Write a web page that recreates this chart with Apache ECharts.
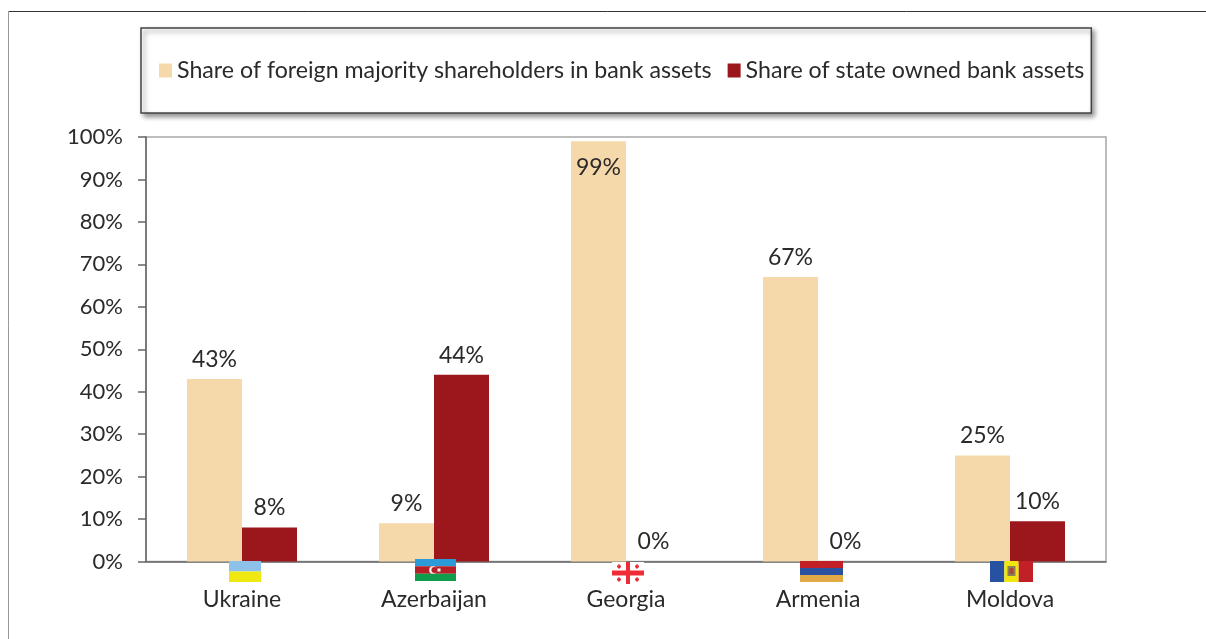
<!DOCTYPE html>
<html>
<head>
<meta charset="utf-8">
<style>
    html, body { margin: 0; padding: 0; background: #fff; }
    #chart { width: 1206px; height: 639px; }
</style>
<script src="https://cdn.jsdelivr.net/npm/echarts@6/dist/echarts.min.js"></script>
</head>
<body>
<div id="chart"></div>
<script>
var countries = ['Ukraine', 'Azerbaijan', 'Georgia', 'Armenia', 'Moldova'];
var foreignShare = [43, 9, 99, 67, 25];
var stateShare = [8, 44, 0, 0, 9.5];
var foreignName = 'Share of foreign majority shareholders in bank assets';
var stateName = 'Share of state owned bank assets';

var textColor = '#2b2a29';
var fontName = 'Lato';

var chart = echarts.init(document.getElementById('chart'));

function percent(p) {
    return Math.round(p.value) + '%';
}

chart.setOption({
    animation: false,
    textStyle: { fontFamily: fontName, color: textColor },
    legend: {
        left: 141,
        top: 28,
        padding: [31, 7, 31, 18],
        icon: 'rect',
        itemWidth: 13,
        itemHeight: 14,
        itemGap: 16,
        borderColor: '#444',
        borderWidth: 1.5,
        backgroundColor: '#fff',
        shadowColor: 'rgba(0,0,0,0.45)',
        shadowBlur: 5,
        shadowOffsetX: 3,
        shadowOffsetY: 3,
        itemStyle: { borderWidth: 0 },
        textStyle: { fontFamily: fontName, fontSize: 23.2, color: textColor },
        data: [foreignName, stateName]
    },
    grid: {
        left: 146,
        right: 100,
        top: 137,
        bottom: 77.5,
        show: true,
        borderColor: '#a8a8a8',
        borderWidth: 1.5
    },
    xAxis: {
        type: 'category',
        data: countries,
        axisLine: { lineStyle: { color: '#666', width: 1.5 } },
        axisTick: { length: 7, lineStyle: { color: '#666', width: 1.5 } },
        axisLabel: { fontFamily: fontName, fontSize: 23, color: textColor, margin: 27 }
    },
    yAxis: {
        type: 'value',
        min: 0,
        max: 100,
        interval: 10,
        axisLine: { show: true, lineStyle: { color: '#666', width: 1.5 } },
        axisTick: { show: true, length: 8, lineStyle: { color: '#666', width: 1.5 } },
        splitLine: { show: false },
        axisLabel: { fontFamily: fontName, fontSize: 22, color: textColor, margin: 23, formatter: '{value}%' }
    },
    series: [
        {
            name: foreignName,
            type: 'bar',
            barWidth: 55,
            barGap: 0,
            itemStyle: { color: '#f6d9ab' },
            label: { show: true, position: 'top', distance: 8, fontSize: 23, color: textColor, formatter: percent },
            data: foreignShare.map(function (v) {
                // the tallest bar has no room above it, so its label sits inside
                return v > 90 ? { value: v, label: { position: 'insideTop', distance: 15 } } : v;
            })
        },
        {
            name: stateName,
            type: 'bar',
            barWidth: 55,
            itemStyle: { color: '#9b171b' },
            label: { show: true, position: 'top', distance: 8, fontSize: 23, color: textColor, formatter: percent },
            data: stateShare
        }
    ]
});

function stripes(left, top, w, h, colors, vertical) {
    return colors.map(function (c, i) {
        var n = colors.length;
        return {
            type: 'rect',
            silent: true,
            z: 20,
            shape: vertical
                ? { x: left + i * w / n, y: top, width: w / n, height: h }
                : { x: left, y: top + i * h / n, width: w, height: h / n },
            style: { fill: c }
        };
    });
}

function box(x, y, w, h, color) {
    return { type: 'rect', silent: true, z: 21, shape: { x: x, y: y, width: w, height: h }, style: { fill: color } };
}

function dot(x, y, r, color) {
    return { type: 'circle', silent: true, z: 21, shape: { cx: x, cy: y, r: r }, style: { fill: color } };
}

function centerOf(i) {
    return chart.convertToPixel({ xAxisIndex: 0 }, countries[i]);
}

function drawDecor() {
    var els = [];
    // page frame around the figure, open at the right and bottom
    els.push({ type: 'line', silent: true, shape: { x1: 8.5, y1: 11.5, x2: 1206, y2: 11.5 }, style: { stroke: '#333', lineWidth: 1 } });
    els.push({ type: 'line', silent: true, shape: { x1: 8.5, y1: 11.5, x2: 8.5, y2: 639 }, style: { stroke: '#999', lineWidth: 1 } });

    // flags under the axis, they sit a little off the band centres in the original
    var x = centerOf(0) - 13;
    els = els.concat(stripes(x, 561, 32, 21, ['#8ec1ea', '#f0e911']));

    x = centerOf(1) - 19;
    els = els.concat(stripes(x, 559, 41, 22, ['#2e9bd9', '#b71f25', '#0f9d4c']));
    els.push(dot(x + 18, 570, 3.8, '#fff'), dot(x + 19.4, 570, 3, '#b71f25'), box(x + 22.5, 568.5, 3, 3, '#fff'));

    x = centerOf(2) - 14;
    els.push(box(x, 562, 32, 22, '#fff'));
    els.push(box(x, 570.5, 32, 5, '#ee2b36'), box(x + 14, 562, 4, 22, '#ee2b36'));
    [[7, 566.5], [25, 566.5], [7, 579.5], [25, 579.5]].forEach(function (d) {
        els.push(box(x + d[0] - 2, d[1] - 1, 4, 2, '#ee2b36'), box(x + d[0] - 1, d[1] - 2, 2, 4, '#ee2b36'));
    });

    x = centerOf(3) - 18;
    els = els.concat(stripes(x, 561, 43, 21, ['#c02026', '#2a52a0', '#e2a947']));

    x = centerOf(4) - 20;
    els = els.concat(stripes(x, 561, 43, 21, ['#2752a2', '#f0e50f', '#c02026'], true));
    els.push(box(x + 17.5, 566, 8, 10, '#8a7f55'), box(x + 19.5, 568, 4, 6, '#a8483a'));

    chart.setOption({ graphic: els });
}

drawDecor();
</script>
</body>
</html>
